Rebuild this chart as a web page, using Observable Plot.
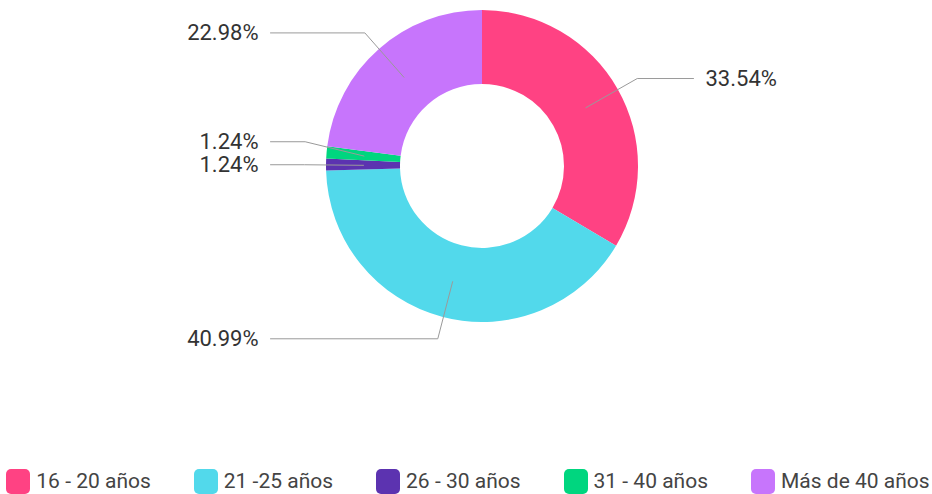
<!DOCTYPE html>
<html>
<head>
<meta charset="utf-8">
<script src="https://cdn.jsdelivr.net/npm/d3@7"></script>
<script src="https://cdn.jsdelivr.net/npm/@observablehq/plot@0.6"></script>
<style>
  html, body { margin: 0; padding: 0; background: #fff; }
  body { width: 932px; height: 494px; overflow: hidden; font-family: Roboto, "Noto Sans", sans-serif; }
  #chart svg { display: block; }
  .legend { display: flex; justify-content: center; align-items: center; gap: 43px; margin-top: 8px; height: 26px; padding-left: 4px; }
  .legend .item { display: flex; align-items: center; font-size: 21px; color: #444; white-space: nowrap; }
  .legend .sw { width: 24px; height: 25px; border-radius: 5px; margin-right: 6px; }
</style>
</head>
<body>
<div id="chart"></div>
<div class="legend" id="legend"></div>
<script>
const categories = ["16 - 20 años", "21 -25 años", "26 - 30 años", "31 - 40 años", "Más de 40 años"];
const values = [33.54, 40.99, 1.24, 1.24, 22.98];
const labels = ["33.54%", "40.99%", "1.24%", "1.24%", "22.98%"];
const colors = ["#ff4283", "#52d9eb", "#5c33b0", "#00d67f", "#c775fc"];

const W = 932, H = 460;
const cx = 482, cy = 166, rOuter = 156, rInner = 82, rMid = 119, rElbow = 178;

const data = categories.map((c, i) => ({cat: c, value: values[i], label: labels[i]}));
const arcs = d3.pie().sort(null).value(d => d.value)(data);
const color = d3.scaleOrdinal(categories, colors);

// leader lines and label anchors derived from slice angles
const leaders = arcs.map(a => {
  const ang = (a.startAngle + a.endAngle) / 2;
  const right = Math.sin(ang) >= 0;
  return {
    cat: a.data.cat, label: a.data.label, right,
    x0: cx + rMid * Math.sin(ang), y0: cy - rMid * Math.cos(ang),
    x1: cx + rElbow * Math.sin(ang), y1: cy - rElbow * Math.cos(ang)
  };
});
// resolve overlaps per side
for (const side of [true, false]) {
  const group = leaders.filter(d => d.right === side).sort((a, b) => b.y1 - a.y1);
  for (let i = 1; i < group.length; i++) {
    if (group[i - 1].y1 - group[i].y1 < 23) group[i].y1 = group[i - 1].y1 - 23;
  }
}
const linePts = [];
for (const d of leaders) {
  const xEnd = d.right ? cx + 211 : cx - 212;
  linePts.push({cat: d.cat, x: d.x0, y: d.y0}, {cat: d.cat, x: d.x1, y: d.y1}, {cat: d.cat, x: xEnd, y: d.y1});
  d.tx = d.right ? cx + 223 : cx - 224;
}

const plot = Plot.plot({
  width: W, height: H,
  margin: 0,
  x: {domain: [0, W], range: [0, W], axis: null},
  y: {domain: [0, H], range: [0, H], axis: null},
  style: {fontFamily: "Roboto, 'Noto Sans', sans-serif", background: "#fff"},
  marks: [
    (index, scales) => {
      const px = scales.x ? scales.x(cx) : cx, py = scales.y ? scales.y(cy) : cy;
      const g = d3.create("svg:g").attr("transform", `translate(${px},${py})`);
      const arcGen = d3.arc().innerRadius(rInner).outerRadius(rOuter);
      g.selectAll("path").data(arcs).join("path")
        .attr("d", arcGen)
        .attr("fill", d => color(d.data.cat));
      return g.node();
    },
    Plot.line(linePts, {x: "x", y: "y", z: "cat", stroke: "#9a9a9a", strokeWidth: 1, curve: "linear"}),
    Plot.text(leaders.filter(d => d.right), {x: "tx", y: "y1", text: "label", textAnchor: "start", fontSize: 22, fill: "#333"}),
    Plot.text(leaders.filter(d => !d.right), {x: "tx", y: "y1", text: "label", textAnchor: "end", fontSize: 22, fill: "#333"})
  ]
});
document.getElementById("chart").appendChild(plot);

const legend = d3.select("#legend");
const items = legend.selectAll(".item").data(categories).join("div").attr("class", "item");
items.append("div").attr("class", "sw").style("background", d => color(d));
items.append("span").text(d => d);
</script>
</body>
</html>
